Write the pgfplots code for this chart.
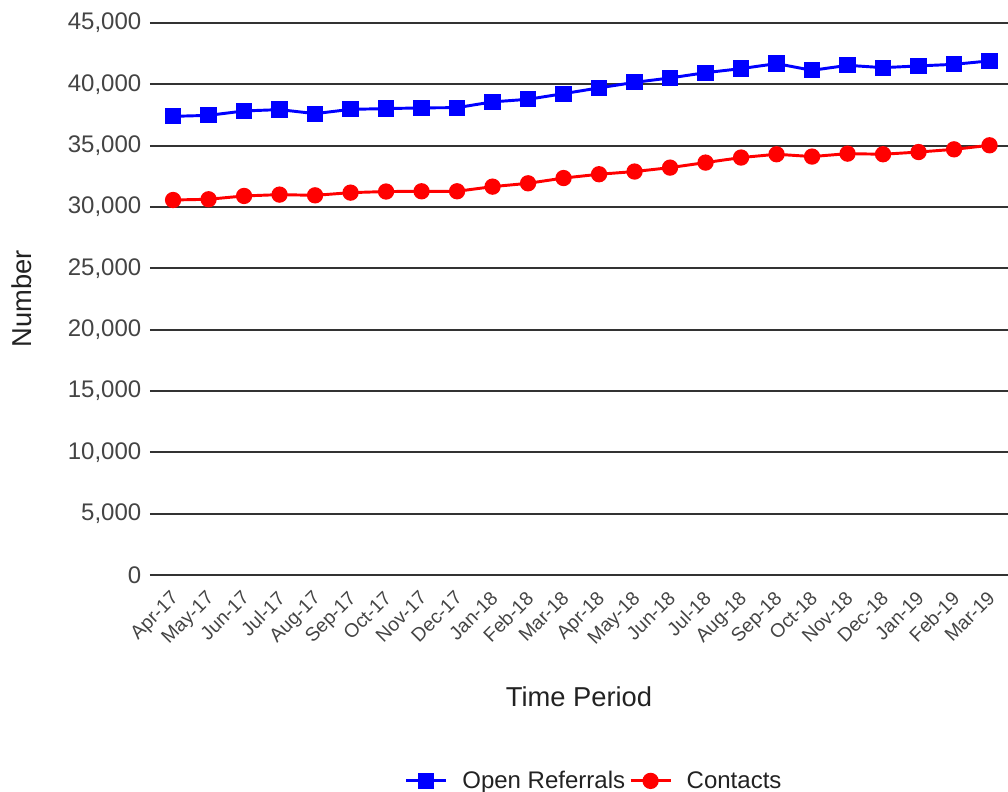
\documentclass[border=0pt]{standalone}
\usepackage{pgfplots}
\pgfplotsset{compat=1.18}
\usepackage{fontspec}
\setmainfont{Liberation Sans}
\definecolor{tickgray}{HTML}{444444}
\definecolor{gridgray}{HTML}{333333}
\definecolor{labelblack}{HTML}{222222}

% Monthly counts, Apr-17 to Mar-19
\pgfplotstableread{
idx referrals contacts
0  37390 30570
1  37470 30630
2  37830 30900
3  37940 31010
4  37610 30950
5  37960 31170
6  38020 31260
7  38080 31280
8  38100 31280
9  38570 31660
10 38780 31930
11 39240 32360
12 39710 32670
13 40160 32890
14 40520 33210
15 40950 33620
16 41280 34030
17 41690 34300
18 41140 34110
19 41550 34350
20 41360 34300
21 41500 34480
22 41630 34700
23 41910 35030
}\datatable

\begin{document}
\begin{tikzpicture}
\useasboundingbox (-112.5pt,-162.75pt) rectangle (643.5pt,431.25pt);
\begin{axis}[
  at={(0,0)}, anchor=south west,
  scale only axis,
  width=643.5pt, height=414pt,
  xmin=-0.65, xmax=23.52,
  ymin=0, ymax=45000,
  ytick={0,5000,...,45000},
  xtick={0,...,23},
  xticklabels={Apr-17,May-17,Jun-17,Jul-17,Aug-17,Sep-17,Oct-17,Nov-17,Dec-17,Jan-18,Feb-18,Mar-18,Apr-18,May-18,Jun-18,Jul-18,Aug-18,Sep-18,Oct-18,Nov-18,Dec-18,Jan-19,Feb-19,Mar-19},
  axis lines*=left,
  y axis line style={draw=none},
  x axis line style={draw=gridgray, line width=2.2pt},
  major tick length=0pt,
  ymajorgrids,
  grid style={draw=gridgray, line width=1.4pt},
  scaled y ticks=false,
  /pgf/number format/.cd, 1000 sep={,}, assume math mode=true,
  /pgfplots/.cd,
  yticklabel style={font=\fontsize{18}{20}\selectfont, text=tickgray, xshift=-3pt},
  xticklabel style={font=\fontsize{14.5}{16}\selectfont, text=tickgray, xshift=-2.4pt, yshift=-9.5pt, rotate=45, anchor=north east, inner sep=1pt},
  xlabel={Time Period},
  ylabel={Number},
  label style={font=\fontsize{20.5}{22}\selectfont, text=labelblack},
  xlabel style={at={(axis description cs:0.5,-0.221)}, anchor=center},
  ylabel style={at={(axis description cs:-0.149,0.5)}, anchor=center, rotate=0},
  legend columns=2,
  legend style={draw=none, fill=none, at={(axis description cs:0.518,-0.373)}, anchor=center,
    font=\fontsize{18}{20}\selectfont, text=labelblack,
    /tikz/every odd column/.append style={column sep=9pt},
    /tikz/every even column/.append style={column sep=1pt}},
  legend image code/.code={\draw[mark repeat=2, mark phase=2] plot coordinates {(0pt,0pt) (15pt,0pt) (30pt,0pt)};},
  clip=false,
]
\addplot[blue, line width=2.2pt, mark=square*, mark size=5pt, mark options={solid}] table[x=idx, y=referrals] {\datatable};
\addlegendentry{Open Referrals}
\addplot[red, line width=2.2pt, mark=*, mark size=5pt, mark options={solid}] table[x=idx, y=contacts] {\datatable};
\addlegendentry{Contacts}
\end{axis}
\end{tikzpicture}
\end{document}
